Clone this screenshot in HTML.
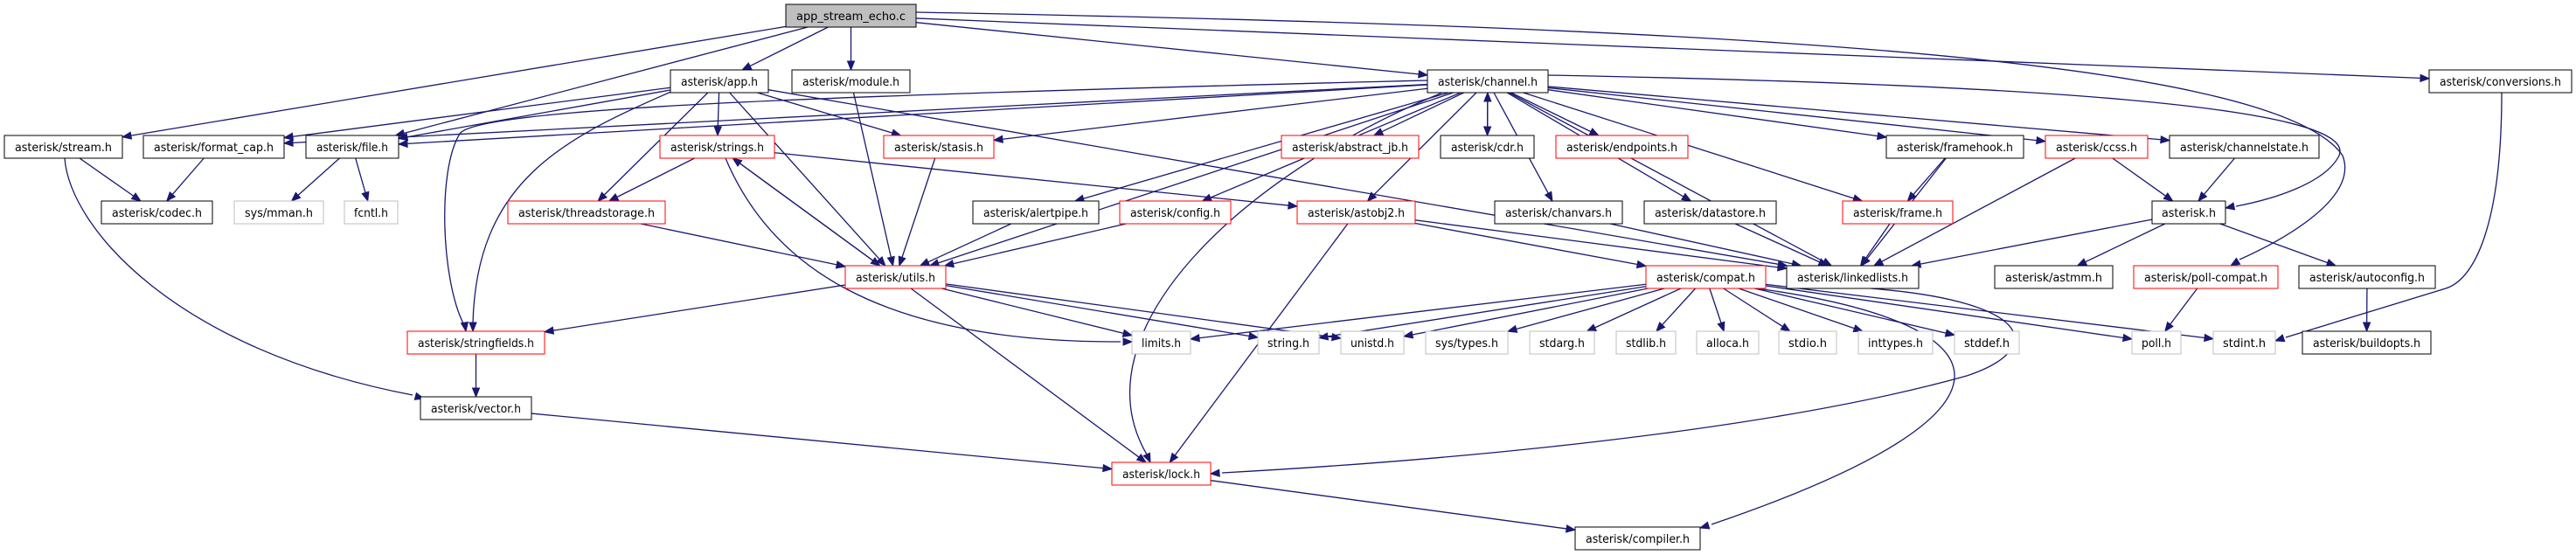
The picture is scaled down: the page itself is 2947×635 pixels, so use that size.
<!DOCTYPE html>
<html><head><meta charset="utf-8">
<style>
html,body{margin:0;padding:0;background:#fff;}
svg{display:block;}
text{font-family:"DejaVu Sans","Liberation Sans",sans-serif;font-size:13px;fill:#000;}
</style></head>
<body>
<svg id="g" width="2947" height="635" viewBox="0 0 2947 635" xmlns="http://www.w3.org/2000/svg">
<g id="edges" stroke="#191970" stroke-width="1.3" fill="none"></g>
<g id="heads" fill="#191970" stroke="#191970"></g>
<g id="nodes">
<rect x="899" y="5" width="149" height="26" fill="#bfbfbf" stroke="#000"/><text x="973.5" y="23" text-anchor="middle" textLength="125" lengthAdjust="spacingAndGlyphs">app_stream_echo.c</text>
<rect x="767" y="80" width="112" height="26" fill="#fff" stroke="#000"/><text x="823" y="98" text-anchor="middle" textLength="88" lengthAdjust="spacingAndGlyphs">asterisk/app.h</text>
<rect x="906" y="80" width="135" height="26" fill="#fff" stroke="#000"/><text x="973.5" y="98" text-anchor="middle" textLength="111" lengthAdjust="spacingAndGlyphs">asterisk/module.h</text>
<rect x="1633" y="80" width="138" height="26" fill="#fff" stroke="#000"/><text x="1702" y="98" text-anchor="middle" textLength="114" lengthAdjust="spacingAndGlyphs">asterisk/channel.h</text>
<rect x="2779" y="80" width="163" height="26" fill="#fff" stroke="#000"/><text x="2860.5" y="98" text-anchor="middle" textLength="139" lengthAdjust="spacingAndGlyphs">asterisk/conversions.h</text>

<rect x="5" y="155" width="135" height="26" fill="#fff" stroke="#000"/><text x="72.5" y="173" text-anchor="middle" textLength="111" lengthAdjust="spacingAndGlyphs">asterisk/stream.h</text>
<rect x="164" y="155" width="161" height="26" fill="#fff" stroke="#000"/><text x="244.5" y="173" text-anchor="middle" textLength="137" lengthAdjust="spacingAndGlyphs">asterisk/format_cap.h</text>
<rect x="350" y="155" width="106" height="26" fill="#fff" stroke="#000"/><text x="403" y="173" text-anchor="middle" textLength="82" lengthAdjust="spacingAndGlyphs">asterisk/file.h</text>
<rect x="755" y="155" width="131" height="26" fill="#fff" stroke="#f00"/><text x="820.5" y="173" text-anchor="middle" textLength="107" lengthAdjust="spacingAndGlyphs">asterisk/strings.h</text>
<rect x="1011" y="155" width="126" height="26" fill="#fff" stroke="#f00"/><text x="1074" y="173" text-anchor="middle" textLength="102" lengthAdjust="spacingAndGlyphs">asterisk/stasis.h</text>
<rect x="1466" y="155" width="157" height="26" fill="#fff" stroke="#f00"/><text x="1544.5" y="173" text-anchor="middle" textLength="133" lengthAdjust="spacingAndGlyphs">asterisk/abstract_jb.h</text>
<rect x="1648" y="155" width="107" height="26" fill="#fff" stroke="#000"/><text x="1701.5" y="173" text-anchor="middle" textLength="83" lengthAdjust="spacingAndGlyphs">asterisk/cdr.h</text>
<rect x="1780" y="155" width="151" height="26" fill="#fff" stroke="#f00"/><text x="1855.5" y="173" text-anchor="middle" textLength="127" lengthAdjust="spacingAndGlyphs">asterisk/endpoints.h</text>
<rect x="2158" y="155" width="157" height="26" fill="#fff" stroke="#000"/><text x="2236.5" y="173" text-anchor="middle" textLength="133" lengthAdjust="spacingAndGlyphs">asterisk/framehook.h</text>
<rect x="2340" y="155" width="117" height="26" fill="#fff" stroke="#f00"/><text x="2398.5" y="173" text-anchor="middle" textLength="93" lengthAdjust="spacingAndGlyphs">asterisk/ccss.h</text>
<rect x="2482" y="155" width="171" height="26" fill="#fff" stroke="#000"/><text x="2567.5" y="173" text-anchor="middle" textLength="147" lengthAdjust="spacingAndGlyphs">asterisk/channelstate.h</text>

<rect x="116" y="230" width="127" height="26" fill="#fff" stroke="#000"/><text x="179.5" y="248" text-anchor="middle" textLength="103" lengthAdjust="spacingAndGlyphs">asterisk/codec.h</text>
<rect x="268" y="230" width="102" height="26" fill="#fff" stroke="#bfbfbf"/><text x="319" y="248" text-anchor="middle" textLength="78" lengthAdjust="spacingAndGlyphs">sys/mman.h</text>
<rect x="394" y="230" width="61" height="26" fill="#fff" stroke="#bfbfbf"/><text x="424.5" y="248" text-anchor="middle" textLength="39" lengthAdjust="spacingAndGlyphs">fcntl.h</text>
<rect x="581" y="230" width="180" height="26" fill="#fff" stroke="#f00"/><text x="671" y="248" text-anchor="middle" textLength="156" lengthAdjust="spacingAndGlyphs">asterisk/threadstorage.h</text>
<rect x="1113" y="230" width="144" height="26" fill="#fff" stroke="#000"/><text x="1185" y="248" text-anchor="middle" textLength="120" lengthAdjust="spacingAndGlyphs">asterisk/alertpipe.h</text>
<rect x="1281" y="230" width="127" height="26" fill="#fff" stroke="#f00"/><text x="1344.5" y="248" text-anchor="middle" textLength="103" lengthAdjust="spacingAndGlyphs">asterisk/config.h</text>
<rect x="1484" y="230" width="135" height="26" fill="#fff" stroke="#f00"/><text x="1551.5" y="248" text-anchor="middle" textLength="111" lengthAdjust="spacingAndGlyphs">asterisk/astobj2.h</text>
<rect x="1710" y="230" width="146" height="26" fill="#fff" stroke="#000"/><text x="1783" y="248" text-anchor="middle" textLength="122" lengthAdjust="spacingAndGlyphs">asterisk/chanvars.h</text>
<rect x="1881" y="230" width="151" height="26" fill="#fff" stroke="#000"/><text x="1956.5" y="248" text-anchor="middle" textLength="127" lengthAdjust="spacingAndGlyphs">asterisk/datastore.h</text>
<rect x="2108" y="230" width="126" height="26" fill="#fff" stroke="#f00"/><text x="2171" y="248" text-anchor="middle" textLength="102" lengthAdjust="spacingAndGlyphs">asterisk/frame.h</text>
<rect x="2462" y="230" width="84" height="26" fill="#fff" stroke="#000"/><text x="2504" y="248" text-anchor="middle" textLength="62" lengthAdjust="spacingAndGlyphs">asterisk.h</text>

<rect x="967" y="304" width="115" height="26" fill="#fff" stroke="#f00"/><text x="1024.5" y="322" text-anchor="middle" textLength="91" lengthAdjust="spacingAndGlyphs">asterisk/utils.h</text>
<rect x="1883" y="304" width="137" height="26" fill="#fff" stroke="#f00"/><text x="1951.5" y="322" text-anchor="middle" textLength="113" lengthAdjust="spacingAndGlyphs">asterisk/compat.h</text>
<rect x="2044" y="304" width="151" height="26" fill="#fff" stroke="#000"/><text x="2119.5" y="322" text-anchor="middle" textLength="127" lengthAdjust="spacingAndGlyphs">asterisk/linkedlists.h</text>
<rect x="2282" y="304" width="135" height="26" fill="#fff" stroke="#000"/><text x="2349.5" y="322" text-anchor="middle" textLength="111" lengthAdjust="spacingAndGlyphs">asterisk/astmm.h</text>
<rect x="2441" y="304" width="165" height="26" fill="#fff" stroke="#f00"/><text x="2523.5" y="322" text-anchor="middle" textLength="141" lengthAdjust="spacingAndGlyphs">asterisk/poll-compat.h</text>
<rect x="2630" y="304" width="156" height="26" fill="#fff" stroke="#000"/><text x="2708" y="322" text-anchor="middle" textLength="132" lengthAdjust="spacingAndGlyphs">asterisk/autoconfig.h</text>

<rect x="466" y="379" width="157" height="26" fill="#fff" stroke="#f00"/><text x="544.5" y="397" text-anchor="middle" textLength="133" lengthAdjust="spacingAndGlyphs">asterisk/stringfields.h</text>
<rect x="1295" y="379" width="67" height="26" fill="#fff" stroke="#bfbfbf"/><text x="1328.5" y="397" text-anchor="middle" textLength="45" lengthAdjust="spacingAndGlyphs">limits.h</text>
<rect x="1439" y="379" width="70" height="26" fill="#fff" stroke="#bfbfbf"/><text x="1474" y="397" text-anchor="middle" textLength="48" lengthAdjust="spacingAndGlyphs">string.h</text>
<rect x="1534" y="379" width="72" height="26" fill="#fff" stroke="#bfbfbf"/><text x="1570" y="397" text-anchor="middle" textLength="50" lengthAdjust="spacingAndGlyphs">unistd.h</text>
<rect x="1631" y="379" width="94" height="26" fill="#fff" stroke="#bfbfbf"/><text x="1678" y="397" text-anchor="middle" textLength="72" lengthAdjust="spacingAndGlyphs">sys/types.h</text>
<rect x="1750" y="379" width="74" height="26" fill="#fff" stroke="#bfbfbf"/><text x="1787" y="397" text-anchor="middle" textLength="52" lengthAdjust="spacingAndGlyphs">stdarg.h</text>
<rect x="1849" y="379" width="68" height="26" fill="#fff" stroke="#bfbfbf"/><text x="1883" y="397" text-anchor="middle" textLength="46" lengthAdjust="spacingAndGlyphs">stdlib.h</text>
<rect x="1941" y="379" width="71" height="26" fill="#fff" stroke="#bfbfbf"/><text x="1976.5" y="397" text-anchor="middle" textLength="49" lengthAdjust="spacingAndGlyphs">alloca.h</text>
<rect x="2035" y="379" width="66" height="26" fill="#fff" stroke="#bfbfbf"/><text x="2068" y="397" text-anchor="middle" textLength="44" lengthAdjust="spacingAndGlyphs">stdio.h</text>
<rect x="2126" y="379" width="85" height="26" fill="#fff" stroke="#bfbfbf"/><text x="2168.5" y="397" text-anchor="middle" textLength="63" lengthAdjust="spacingAndGlyphs">inttypes.h</text>
<rect x="2236" y="379" width="74" height="26" fill="#fff" stroke="#bfbfbf"/><text x="2273" y="397" text-anchor="middle" textLength="52" lengthAdjust="spacingAndGlyphs">stddef.h</text>
<rect x="2439" y="379" width="56" height="26" fill="#fff" stroke="#bfbfbf"/><text x="2467" y="397" text-anchor="middle" textLength="34" lengthAdjust="spacingAndGlyphs">poll.h</text>
<rect x="2532" y="379" width="71" height="26" fill="#fff" stroke="#bfbfbf"/><text x="2567.5" y="397" text-anchor="middle" textLength="49" lengthAdjust="spacingAndGlyphs">stdint.h</text>
<rect x="2634" y="379" width="147" height="26" fill="#fff" stroke="#000"/><text x="2707.5" y="397" text-anchor="middle" textLength="123" lengthAdjust="spacingAndGlyphs">asterisk/buildopts.h</text>

<rect x="481" y="454" width="127" height="26" fill="#fff" stroke="#000"/><text x="544.5" y="472" text-anchor="middle" textLength="103" lengthAdjust="spacingAndGlyphs">asterisk/vector.h</text>
<rect x="1272" y="529" width="113" height="26" fill="#fff" stroke="#f00"/><text x="1328.5" y="547" text-anchor="middle" textLength="89" lengthAdjust="spacingAndGlyphs">asterisk/lock.h</text>
<rect x="1802" y="603" width="143" height="26" fill="#fff" stroke="#000"/><text x="1873.5" y="621" text-anchor="middle" textLength="119" lengthAdjust="spacingAndGlyphs">asterisk/compiler.h</text>
</g>
</svg>
<script>
var N={
echo:[899,1048,5],app:[767,879,80],module:[906,1041,80],channel:[1633,1771,80],conv:[2779,2942,80],
stream:[5,140,155],fcap:[164,325,155],file:[350,456,155],strings:[755,886,155],stasis:[1011,1137,155],ajb:[1466,1623,155],cdr:[1648,1755,155],endp:[1780,1931,155],fhook:[2158,2315,155],ccss:[2340,2457,155],cstate:[2482,2653,155],
codec:[116,243,230],mman:[268,370,230],fcntl:[394,455,230],tstor:[581,761,230],alert:[1113,1257,230],config:[1281,1408,230],astobj2:[1484,1619,230],chanvars:[1710,1856,230],dstore:[1881,2032,230],frame:[2108,2234,230],ast:[2462,2546,230],
utils:[967,1082,304],compat:[1883,2020,304],ll:[2044,2195,304],astmm:[2282,2417,304],pollc:[2441,2606,304],autoc:[2630,2786,304],
sfields:[466,623,379],limits:[1295,1362,379],string:[1439,1509,379],unistd:[1534,1606,379],stypes:[1631,1725,379],stdarg:[1750,1824,379],stdlib:[1849,1917,379],alloca:[1941,2012,379],stdio:[2035,2101,379],inttypes:[2126,2211,379],stddef:[2236,2310,379],poll:[2439,2495,379],stdint:[2532,2603,379],bopts:[2634,2781,379],
vector:[481,608,454],lock:[1272,1385,529],compiler:[1802,1945,603]};
var E=[
["echo","stream"],["echo","file"],["echo","app"],["echo","module"],["echo","channel"],["echo","conv"],
["app","file"],["app","fcap"],["app","strings"],["app","utils"],["app","stasis"],["app","tstor"],["app","ll"],
["channel","fcap"],["channel","file"],["channel","stasis"],["channel","utils"],["channel","alert"],["channel","config"],["channel","astobj2"],["channel","ajb"],["channel","cdr"],["channel","endp"],["channel","chanvars"],["channel","dstore"],["channel","ll"],["channel","frame"],["channel","fhook"],["channel","ccss"],["channel","cstate"],["cdr","channel"],
["strings","tstor"],["strings","utils"],["strings","astobj2"],["utils","strings"],["utils","sfields"],["utils","limits"],["utils","string"],["utils","unistd"],["utils","lock"],
["tstor","utils"],["module","utils"],["stasis","utils"],["alert","utils"],["config","utils"],
["astobj2","lock"],["astobj2","compat"],["astobj2","ll"],
["stream","codec"],["fcap","codec"],["file","mman"],["file","fcntl"],
["sfields","vector"],["vector","lock"],["lock","compiler"],
["chanvars","ll"],["dstore","ll"],["frame","ll"],["fhook","frame"],["fhook","ll"],["ccss","ast"],["ccss","ll"],["cstate","ast"],
["ast","ll"],["ast","astmm"],["ast","autoc"],["autoc","bopts"],["pollc","poll"],
["compat","limits"],["compat","string"],["compat","unistd"],["compat","stypes"],["compat","stdarg"],["compat","stdlib"],["compat","alloca"],["compat","stdio"],["compat","inttypes"],["compat","stddef"],["compat","poll"],["compat","stdint"]];
/* curved edges: path, arrow tip, direction-from point */
var C=[
["M74,181 C80,260 200,400 472,452",485,456,440,444],
["M830,181 C880,300 1000,392 1282,391",1295,391,1260,391],
["M1633,92 C900,110 545,125 526,153 C500,195 505,320 530,370",533,379,530,360],
["M770,104 C640,160 545,210 541,370",541,379,541,360],
["M1650,106 C1420,200 1230,380 1312,520",1316,529,1305,505],
["M2140,330 C2330,345 2340,400 2250,430 C2000,500 1600,530 1398,541",1385,542,1410,540],
["M2010,330 C2300,370 2340,470 1958,600",1945,604,1975,595],
["M1771,86 C2300,96 2700,120 2676,178 C2660,210 2600,228 2558,236",2546,238,2570,233],
["M1048,14 C1900,30 2600,60 2680,178 C2700,230 2600,280 2562,297",2552,304,2575,290],
["M2862,106 C2862,260 2830,320 2798,330 L2615,386",2603,390,2630,381]
];
var NS="http://www.w3.org/2000/svg";
function clip(b,cx,cy,dx,dy){var hw=(b[1]-b[0])/2,hh=13;var tx=dx?hw/Math.abs(dx):1e9,ty=dy?hh/Math.abs(dy):1e9;var t=Math.min(tx,ty);return [cx+dx*t,cy+dy*t];}
var eg=document.getElementById("edges"),hg=document.getElementById("heads");
function head(qx,qy,ux,uy){var ex=qx-ux*10,ey=qy-uy*10;var px=-uy*4,py=ux*4;
var h=document.createElementNS(NS,"polygon");h.setAttribute("points",qx+","+qy+" "+(ex+px)+","+(ey+py)+" "+(ex-px)+","+(ey-py));hg.appendChild(h);}
E.forEach(function(e){var a=N[e[0]],b=N[e[1]];
var ax=(a[0]+a[1])/2,ay=a[2]+13,bx=(b[0]+b[1])/2,by=b[2]+13;var dx=bx-ax,dy=by-ay;
var p=clip(a,ax,ay,dx,dy),q=clip(b,bx,by,-dx,-dy);
var L=Math.hypot(q[0]-p[0],q[1]-p[1]);if(L<1)return;var ux=(q[0]-p[0])/L,uy=(q[1]-p[1])/L;
var ex=q[0]-ux*10,ey=q[1]-uy*10;
var l=document.createElementNS(NS,"path");l.setAttribute("d","M"+p[0]+","+p[1]+"L"+ex+","+ey);eg.appendChild(l);
head(q[0],q[1],ux,uy);});
C.forEach(function(c){var l=document.createElementNS(NS,"path");l.setAttribute("d",c[0]);eg.appendChild(l);
var dx=c[1]-c[3],dy=c[2]-c[4],L=Math.hypot(dx,dy);head(c[1],c[2],dx/L,dy/L);});
</script>
</body></html>
